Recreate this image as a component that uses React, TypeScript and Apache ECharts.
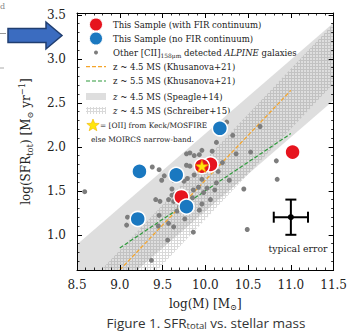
import React, { useEffect, useRef } from "react";
import * as echarts from "echarts";

// ---------------- data ----------------
const xTickValues = [8.5, 9.0, 9.5, 10.0, 10.5, 11.0, 11.5];
const yTickValues = [1.0, 1.5, 2.0, 2.5, 3.0, 3.5];
const yMinorTickValues = [
  0.6, 0.7, 0.8, 0.9, 1.1, 1.2, 1.3, 1.4, 1.6, 1.7, 1.8, 1.9, 2.1, 2.2, 2.3, 2.4,
  2.6, 2.7, 2.8, 2.9, 3.1, 3.2, 3.3, 3.4,
];

// This Sample (with FIR continuum)
const redWithFIR = [
  [11.02, 1.94],
  [10.06, 1.8],
  [9.72, 1.43],
  [9.96, 1.78],
];
// This Sample (no FIR continuum)
const blueNoFIR = [
  [10.17, 2.21],
  [9.23, 1.72],
  [9.66, 1.68],
  [9.78, 1.32],
  [9.21, 1.18],
];
// [OII] from Keck/MOSFIRE
const oiiStar = [[9.96, 1.78]];

// Other [CII] detected ALPINE galaxies
const alpineOthers = [
  [8.59, 1.49],
  [9.08, 1.11], [9.09, 1.2],
  [9.37, 0.71], [9.56, 0.94],
  [9.38, 1.77], [9.46, 1.74], [9.49, 1.62], [9.52, 1.67],
  [9.42, 1.4], [9.47, 1.38], [9.46, 1.22], [9.45, 1.1], [9.57, 1.13], [9.63, 1.09],
  [9.61, 1.45], [9.64, 1.46], [9.57, 1.4], [9.63, 1.38],
  [9.61, 1.52], [9.63, 1.62], [9.75, 1.61], [9.79, 1.64],
  [9.7, 1.32], [9.67, 1.27], [9.76, 1.18], [9.86, 1.03],
  [9.78, 1.79], [9.82, 1.78], [9.78, 1.92], [9.82, 1.93], [9.87, 1.9], [9.93, 1.91],
  [9.96, 1.96], [10.08, 1.95],
  [9.87, 1.68], [9.96, 1.63], [9.92, 1.54], [9.86, 1.51], [9.98, 1.48], [10.02, 1.53],
  [9.85, 1.42], [9.96, 1.35], [9.93, 1.28], [10.06, 1.4],
  [10.11, 1.51], [10.13, 1.59], [10.15, 1.72], [10.2, 1.82], [10.28, 1.62],
  [10.13, 2.05], [10.25, 2.28], [10.32, 2.13], [10.64, 2.23],
  [10.36, 1.92], [10.53, 1.94], [10.45, 1.52], [10.49, 1.06],
  [10.83, 1.84], [10.84, 1.63],
];

// main-sequence relations
const khusanova45 = [[9.0, 0.6], [11.0, 2.64]];
const khusanova55 = [[9.0, 0.85], [11.0, 2.15]];
const speagleUpper = [[8.5, 0.89], [11.5, 3.41]];
const speagleLower = [[8.5, 0.01], [11.5, 2.53]];
const schreiberUpper = [[8.5, 0.31], [11.5, 3.4]];
const schreiberLower = [[8.5, -0.37], [11.5, 2.72]];

// typical error: [x, y, dx, dy]
const typicalError = [[11.0, 1.2, 0.2, 0.2]];

// ---------------- styles ----------------
const SERIF = "'DejaVu Serif', serif";
const SANS = "'Open Sans', 'Noto Sans', sans-serif";
const INK = "#222";
const RED = "#e6141e";
const BLUE = "#1a78c0";
const GREY = "#7d7d7d";
const ORANGE = "#f5a52a";
const GREEN = "#2f9a3c";
const BAND = "#dedede";

function richFor(size: number, family: string, color: string) {
  return {
    s: { fontFamily: family, fontSize: size * 0.7, verticalAlign: "bottom", lineHeight: size * 0.75, color },
    p: { fontFamily: family, fontSize: size * 0.7, verticalAlign: "top", lineHeight: size * 0.75, color },
    i: { fontFamily: family, fontSize: size, fontStyle: "italic", color, lineHeight: size * 1.35 },
  };
}

function makeHatch() {
  const c = document.createElement("canvas");
  c.width = 3;
  c.height = 3;
  const ctx = c.getContext("2d")!;
  ctx.fillStyle = "rgba(130,130,130,0.3)";
  ctx.fillRect(0, 0, 3, 1);
  ctx.fillRect(0, 1, 1, 2);
  return c;
}

function starPoints(cx: number, cy: number, R: number, r: number) {
  const pts: number[][] = [];
  for (let k = 0; k < 10; k++) {
    const a = -Math.PI / 2 + (k * Math.PI) / 5;
    const rr = k % 2 === 0 ? R : r;
    pts.push([cx + rr * Math.cos(a), cy + rr * Math.sin(a)]);
  }
  return pts;
}

const STAR_PATH =
  "path://M0,-10 L2.35,-3.24 L9.51,-3.09 L3.8,1.24 L5.88,8.09 L0,4 L-5.88,8.09 L-3.8,1.24 L-9.51,-3.09 L-2.35,-3.24 Z";

function bandSeries(upper: number[][], lower: number[][], fill: any, z: number) {
  return {
    type: "custom",
    z,
    silent: true,
    clip: true,
    data: [upper[0]],
    encode: { x: 0, y: 1 },
    renderItem: (_params: any, api: any) => {
      const pts = upper
        .map((p) => api.coord(p))
        .concat(lower.slice().reverse().map((p) => api.coord(p)));
      return { type: "polygon", shape: { points: pts }, style: { fill } };
    },
  };
}

export default function App() {
  const ref = useRef<HTMLDivElement>(null);

  useEffect(() => {
    const chart = echarts.init(ref.current!, null, { renderer: "svg" });
    const hatch = { image: makeHatch(), repeat: "repeat", imageWidth: 3, imageHeight: 3 };

    const majorTick = { show: true, inside: true, length: 5, lineStyle: { color: "#000", width: 1 } };
    const tickLabel = { fontFamily: SERIF, fontSize: 12, color: INK };

    const legendTextStyle = (text: string, x: number, y: number, size = 8.5) => ({
      type: "text",
      x,
      y,
      style: {
        text,
        fontFamily: SERIF,
        fontSize: size,
        fill: INK,
        align: "left",
        verticalAlign: "middle",
        textVerticalAlign: "middle",
        lineHeight: size * 1.35,
        rich: richFor(size, SERIF, INK),
      },
    });

    const lx = 96;
    const tx = 113;
    const rows = [24.5, 38.5, 52.5, 66.7, 81, 96.5, 110.5];

    const option: any = {
      animation: false,
      grid: { left: 77, right: 8, top: 13, bottom: 64, containLabel: false },
      xAxis: [
        {
          type: "value",
          position: "bottom",
          min: 8.5,
          max: 11.5,
          interval: 0.5,
          z: 10,
          axisLine: { show: true, lineStyle: { color: "#000", width: 1 } },
          splitLine: { show: false },
          axisTick: majorTick,
          minorTick: { show: true, splitNumber: 5, length: 2.5, lineStyle: { color: "#000", width: 0.8 } },
          axisLabel: {
            ...tickLabel,
            margin: 9,
            showMinLabel: true,
            showMaxLabel: true,
            formatter: (v: number) => v.toFixed(1),
          },
          name: "log(M) [M{s|⊙}]",
          nameLocation: "middle",
          nameGap: 27,
          nameTextStyle: {
            fontFamily: SERIF,
            fontSize: 12,
            color: INK,
            lineHeight: 14,
            rich: richFor(12, SERIF, INK),
          },
        },
        {
          type: "value",
          position: "top",
          min: 8.5,
          max: 11.5,
          interval: 0.5,
          z: 10,
          axisLine: { show: true, lineStyle: { color: "#000", width: 1 } },
          splitLine: { show: false },
          axisTick: majorTick,
          minorTick: { show: true, splitNumber: 5, length: 2.5, lineStyle: { color: "#000", width: 0.8 } },
          axisLabel: { show: false },
        },
      ],
      yAxis: [
        {
          type: "value",
          position: "left",
          min: 0.6,
          max: 3.52,
          z: 10,
          axisLine: { show: true, lineStyle: { color: "#000", width: 1 } },
          splitLine: { show: false },
          axisTick: { ...majorTick, customValues: yTickValues },
          axisLabel: {
            ...tickLabel,
            margin: 11,
            customValues: yTickValues,
            formatter: (v: number) => v.toFixed(1),
          },
          name: "log(SFR{s|tot}) [M{s|⊙} yr{p|−1}]",
          nameLocation: "middle",
          nameGap: 43,
          nameTextStyle: {
            fontFamily: SERIF,
            fontSize: 12,
            color: INK,
            lineHeight: 16,
            rich: richFor(12, SERIF, INK),
          },
        },
        {
          type: "value",
          position: "right",
          min: 0.6,
          max: 3.52,
          z: 10,
          axisLine: { show: true, lineStyle: { color: "#000", width: 1 } },
          splitLine: { show: false },
          axisTick: { ...majorTick, customValues: yTickValues },
          axisLabel: { show: false },
        },
        {
          type: "value",
          position: "left",
          min: 0.6,
          max: 3.52,
          z: 10,
          axisLine: { show: false },
          splitLine: { show: false },
          axisTick: { show: true, inside: true, length: 2.5, customValues: yMinorTickValues, lineStyle: { color: "#000", width: 0.8 } },
          axisLabel: { show: false },
        },
        {
          type: "value",
          position: "right",
          min: 0.6,
          max: 3.52,
          z: 10,
          axisLine: { show: false },
          splitLine: { show: false },
          axisTick: { show: true, inside: true, length: 2.5, customValues: yMinorTickValues, lineStyle: { color: "#000", width: 0.8 } },
          axisLabel: { show: false },
        },
      ],
      series: [
        bandSeries(speagleUpper, speagleLower, BAND, 1),
        bandSeries(schreiberUpper, schreiberLower, hatch, 1.5),
        {
          type: "line",
          data: khusanova45,
          z: 2,
          symbol: "none",
          silent: true,
          lineStyle: { color: ORANGE, width: 1.2, type: [4, 2] },
        },
        {
          type: "line",
          data: khusanova55,
          z: 2,
          symbol: "none",
          silent: true,
          lineStyle: { color: GREEN, width: 1.2, type: [4, 2] },
        },
        {
          type: "scatter",
          data: alpineOthers,
          z: 3,
          symbol: "circle",
          symbolSize: 5,
          itemStyle: { color: GREY, opacity: 1 },
        },
        {
          type: "scatter",
          data: redWithFIR,
          z: 4,
          symbol: "circle",
          symbolSize: 15,
          itemStyle: { color: RED, borderColor: "#fff", borderWidth: 1.5, opacity: 1 },
        },
        {
          type: "scatter",
          data: blueNoFIR,
          z: 5,
          symbol: "circle",
          symbolSize: 15,
          itemStyle: { color: BLUE, borderColor: "#fff", borderWidth: 1.5, opacity: 1 },
        },
        {
          type: "scatter",
          data: oiiStar,
          z: 6,
          symbol: STAR_PATH,
          symbolKeepAspect: true,
          symbolSize: 13,
          itemStyle: { color: "#ffe60a", borderColor: "#ef7d00", borderWidth: 0.8, opacity: 1 },
        },
        {
          type: "custom",
          z: 7,
          clip: false,
          silent: true,
          data: typicalError,
          encode: { x: 0, y: 1 },
          renderItem: (_params: any, api: any) => {
            const x = api.value(0);
            const y = api.value(1);
            const dx = api.value(2);
            const dy = api.value(3);
            const c = api.coord([x, y]);
            const l = api.coord([x - dx, y]);
            const r = api.coord([x + dx, y]);
            const t = api.coord([x, y + dy]);
            const b = api.coord([x, y - dy]);
            const cap = 5.5;
            const ls = { stroke: "#000", lineWidth: 2 };
            return {
              type: "group",
              children: [
                { type: "line", shape: { x1: l[0], y1: l[1], x2: r[0], y2: r[1] }, style: ls },
                { type: "line", shape: { x1: t[0], y1: t[1], x2: b[0], y2: b[1] }, style: ls },
                { type: "line", shape: { x1: l[0], y1: l[1] - cap, x2: l[0], y2: l[1] + cap }, style: ls },
                { type: "line", shape: { x1: r[0], y1: r[1] - cap, x2: r[0], y2: r[1] + cap }, style: ls },
                { type: "line", shape: { x1: t[0] - cap, y1: t[1], x2: t[0] + cap, y2: t[1] }, style: ls },
                { type: "line", shape: { x1: b[0] - cap, y1: b[1], x2: b[0] + cap, y2: b[1] }, style: ls },
                { type: "circle", shape: { cx: c[0], cy: c[1], r: 3 }, style: { fill: "#000" } },
              ],
            };
          },
        },
      ],
      graphic: [
        // legend
        { type: "circle", shape: { cx: lx, cy: rows[0], r: 6.5 }, style: { fill: RED, stroke: "#fff", lineWidth: 1 } },
        legendTextStyle("This Sample (with FIR continuum)", tx, rows[0]),
        { type: "circle", shape: { cx: lx, cy: rows[1], r: 6.5 }, style: { fill: BLUE, stroke: "#fff", lineWidth: 1 } },
        legendTextStyle("This Sample (no FIR continuum)", tx, rows[1]),
        { type: "circle", shape: { cx: lx, cy: rows[2], r: 2 }, style: { fill: GREY } },
        legendTextStyle("Other [CII]{s|158μm} detected {i|ALPINE} galaxies", tx, rows[2]),
        { type: "line", shape: { x1: 86, y1: rows[3], x2: 106, y2: rows[3] }, style: { stroke: ORANGE, lineWidth: 1.2, lineDash: [4, 2] } },
        legendTextStyle("z ~ 4.5 MS (Khusanova+21)", tx, rows[3]),
        { type: "line", shape: { x1: 86, y1: rows[4], x2: 106, y2: rows[4] }, style: { stroke: GREEN, lineWidth: 1.2, lineDash: [4, 2] } },
        legendTextStyle("z ~ 5.5 MS (Khusanova+21)", tx, rows[4]),
        { type: "rect", shape: { x: 86, y: rows[5] - 3.5, width: 20, height: 7 }, style: { fill: BAND } },
        legendTextStyle("{i|z} ~ 4.5 MS (Speagle+14)", tx, rows[5]),
        { type: "rect", shape: { x: 86, y: rows[6] - 3.5, width: 20, height: 7 }, style: { fill: hatch } },
        legendTextStyle("{i|z} ~ 4.5 MS (Schreiber+15)", tx, rows[6]),
        {
          type: "polygon",
          shape: { points: starPoints(93, 125.5, 6.5, 2.8) },
          style: { fill: "#ffe60a", stroke: "#f0b400", lineWidth: 0.6 },
        },
        legendTextStyle("= [OII] from Keck/MOSFIRE", 100, 125.5, 7.4),
        legendTextStyle("else MOIRCS narrow-band.", 91, 139, 7.4),
        // typical error label
        {
          type: "text",
          x: 298,
          y: 248,
          style: {
            text: "typical error",
            fontFamily: SERIF,
            fontSize: 9.3,
            fill: INK,
            align: "center",
            verticalAlign: "middle",
            textAlign: "center",
            textVerticalAlign: "middle",
          },
        },
        // figure caption
        {
          type: "text",
          x: 206,
          y: 323,
          style: {
            text: "Figure 1. SFR{s|total} vs. stellar mass",
            fontFamily: SANS,
            fontSize: 13.5,
            fill: "#333",
            lineHeight: 14,
            align: "center",
            verticalAlign: "middle",
            textAlign: "center",
            textVerticalAlign: "middle",
            rich: {
              s: { fontFamily: SANS, fontSize: 9.5, verticalAlign: "bottom", lineHeight: 9, color: "#333" },
            },
          },
        },
        // arrow pointing at the chart
        {
          type: "polygon",
          shape: {
            points: [
              [8, 28.5],
              [46, 28.5],
              [46, 22],
              [62, 35.5],
              [46, 49],
              [46, 42.5],
              [8, 42.5],
            ],
          },
          style: { fill: "#3b6cc0", stroke: "#203e70", lineWidth: 1.5 },
        },
        // fragments of the neighbouring figure at the left edge
        {
          type: "text",
          x: 0,
          y: 6,
          style: { text: "d", fontFamily: SERIF, fontSize: 8, fill: "#888", verticalAlign: "middle" },
        },
        { type: "line", shape: { x1: 0, y1: 33.5, x2: 6, y2: 33.5 }, style: { stroke: "#999", lineWidth: 1 } },
        { type: "line", shape: { x1: 0, y1: 68, x2: 4, y2: 68 }, style: { stroke: "#aaa", lineWidth: 1 } },
      ],
    };

    chart.setOption(option);
    return () => chart.dispose();
  }, []);

  return (
    <div
      ref={ref}
      style={{ position: "fixed", left: 0, top: 0, width: 350, height: 334, background: "#fff" }}
    />
  );
}
